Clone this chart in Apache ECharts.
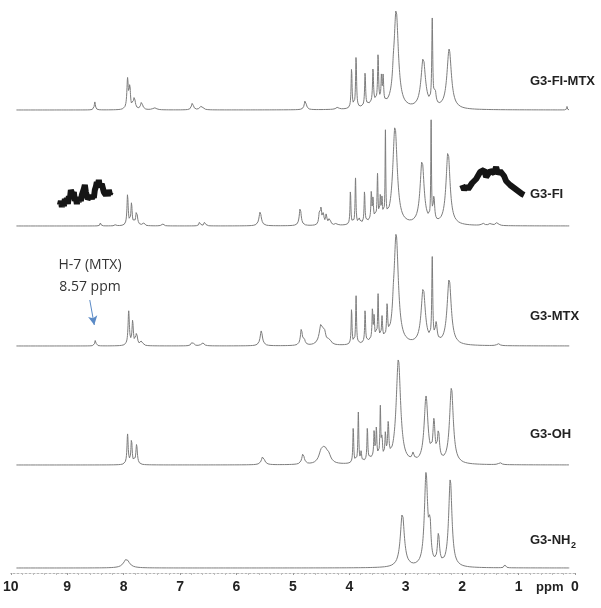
<!DOCTYPE html>
<html><head><meta charset="utf-8">
<script src="https://cdn.jsdelivr.net/npm/echarts@6/dist/echarts.min.js"></script>
<style>html,body{margin:0;padding:0;background:#fff}#c{width:601px;height:608px}</style>
</head><body><div id="c"></div>
<script>
// ---------------- DATA ----------------
const spectrumNames = ['G3-FI-MTX', 'G3-FI', 'G3-MTX', 'G3-OH', 'G3-NH2'];
const xTickValues = [10, 9, 8, 7, 6, 5, 4, 3, 2, 1, 0];
// peaks: [chemical shift (ppm), intensity, half width at half max (ppm)]
const peaksFIMTX = [
  [8.51, 8, 0.012], [7.93, 30, 0.015], [7.89, 22, 0.013], [7.81, 12, 0.02], [7.68, 8, 0.02], [7.45, 2, 0.04],
  [6.78, 7, 0.02], [6.62, 4, 0.03], [4.78, 10, 0.02], [4.21, 2, 0.03],
  [3.96, 40, 0.01], [3.88, 52, 0.01], [3.72, 34, 0.01], [3.58, 34, 0.01], [3.49, 48, 0.01],
  [3.43, 26, 0.01], [3.40, 26, 0.01], [3.55, 6, 0.15], [3.22, 8, 0.015],
  [3.17, 98, 0.047], [2.69, 50, 0.047], [2.53, 84, 0.01], [2.48, 14, 0.02], [2.23, 60, 0.047], [0.14, 4, 0.005]
];
const peaksFI = [
  [8.41, 3, 0.01], [8.14, 2, 0.01], [7.93, 31, 0.013], [7.86, 22, 0.013], [7.77, 15, 0.018], [7.65, 3, 0.02], [7.31, 2, 0.02],
  [6.65, 5, 0.012], [6.56, 5, 0.012], [5.58, 14, 0.025], [4.87, 18, 0.02],
  [4.53, 12, 0.015], [4.50, 16, 0.012], [4.46, 11, 0.012], [4.41, 10, 0.015], [4.35, 7, 0.02], [4.23, 2, 0.02],
  [3.98, 34, 0.009], [3.89, 46, 0.009], [3.82, 5, 0.01], [3.73, 32, 0.009], [3.61, 28, 0.009], [3.58, 20, 0.009],
  [3.50, 44, 0.009], [3.45, 22, 0.009], [3.42, 20, 0.009], [3.36, 86, 0.007], [3.55, 5, 0.15],
  [3.19, 98, 0.047], [2.71, 64, 0.042], [2.55, 98, 0.007], [2.50, 24, 0.015], [2.25, 74, 0.042],
  [1.63, 2, 0.03], [1.50, 2, 0.03], [1.38, 3, 0.03]
];
const peaksMTX = [
  [8.50, 6, 0.012], [7.91, 34, 0.014], [7.84, 24, 0.014], [7.77, 12, 0.018], [7.68, 5, 0.02],
  [6.78, 5, 0.02], [6.60, 3, 0.03], [5.56, 15, 0.025], [4.85, 16, 0.02], [4.80, 5, 0.02],
  [4.50, 20, 0.04], [4.44, 10, 0.03], [4.35, 5, 0.03],
  [3.96, 36, 0.009], [3.88, 48, 0.009], [3.72, 33, 0.009], [3.59, 30, 0.009], [3.56, 22, 0.009], [3.49, 44, 0.009],
  [3.42, 22, 0.011], [3.33, 32, 0.011], [3.55, 5, 0.15], [3.22, 8, 0.015],
  [3.17, 110, 0.047], [2.69, 56, 0.044], [2.53, 82, 0.01], [2.46, 18, 0.02], [2.23, 66, 0.044], [1.36, 2, 0.03]
];
const peaksOH = [
  [7.93, 30, 0.013], [7.86, 25, 0.013], [7.77, 20, 0.016], [5.53, 9, 0.03], [4.82, 11, 0.025],
  [4.50, 10, 0.05], [4.44, 12, 0.05], [4.37, 8, 0.05],
  [3.93, 36, 0.009], [3.84, 50, 0.009], [3.79, 10, 0.009], [3.68, 33, 0.009], [3.56, 26, 0.009], [3.52, 29, 0.009],
  [3.45, 50, 0.009], [3.42, 20, 0.009], [3.36, 24, 0.011], [3.31, 34, 0.013], [3.55, 6, 0.15],
  [3.13, 104, 0.047], [2.87, 7, 0.02], [2.64, 66, 0.04], [2.50, 38, 0.022], [2.42, 28, 0.022], [2.19, 76, 0.04], [1.33, 2, 0.03]
];
const peaksNH2 = [
  [7.95, 9, 0.06], [3.06, 54, 0.042], [2.64, 92, 0.035], [2.57, 34, 0.02], [2.42, 30, 0.022], [2.21, 88, 0.035], [1.24, 3, 0.015]
];
// magnified baseline insets of G3-FI: start ppm, ppm step, sampled intensities
const insetLeftStart = 9.13, insetLeftStep = 0.0177;
const insetLeftValues = [368, 372, 366, 371, 367, 374, 370, 375, 369, 377, 374, 383, 385, 378, 381, 372, 375, 369, 374, 371,
  376, 372, 378, 376, 384, 388, 381, 379, 374, 376, 372, 377, 374, 378, 375, 383, 386, 391, 388, 393,
  386, 384, 389, 385, 381, 383, 378, 381, 377, 383, 379, 381, 378];
const insetRightStart = 2.00, insetRightStep = 0.0354;
const insetRightValues = [388, 383, 387, 384, 386, 390, 388, 394, 396, 401, 399, 403, 396, 398, 402, 404,
  400, 406, 399, 402, 404, 397, 392, 394, 388, 390, 385, 387, 382, 384, 379, 378];
const annotationShift = 8.57;

// ---------------- LAYOUT ----------------
const stackBase = [463, 347, 227, 108, 5];  // vertical offset of each trace
const labelY = [83, 196, 318, 436, 542];

function buildCurve(peaks, base) {
  const xs = [];
  for (let i = 0; i <= 4900; i++) xs.push(9.9 - i * 0.002);
  peaks.forEach(p => xs.push(p[0]));
  xs.sort((a, b) => b - a);
  return xs.map(x => {
    let y = base;
    for (const [c, h, w] of peaks) { const d = (x - c) / w; y += h / (1 + d * d); }
    return [x, y];
  });
}
function sampled(start, step, vals) { return vals.map((v, i) => [start - i * step, v]); }

const allPeaks = [peaksFIMTX, peaksFI, peaksMTX, peaksOH, peaksNH2];
const series = allPeaks.map((pk, i) => ({
  type: 'line', name: spectrumNames[i], data: buildCurve(pk, stackBase[i]),
  showSymbol: false, silent: true, animation: false,
  lineStyle: { color: '#7d7d7d', width: 1 }
}));
series[2].markLine = {
  silent: true, animation: false, symbol: ['none', 'arrow'], symbolSize: [7, 9],
  label: { show: false },
  lineStyle: { color: '#5a8ac6', width: 1, type: 'solid' },
  data: [[{ coord: [annotationShift + 0.03, 273] }, { coord: [annotationShift - 0.05, 248] }]]
};
[sampled(insetLeftStart, insetLeftStep, insetLeftValues), sampled(insetRightStart, insetRightStep, insetRightValues)]
  .forEach(d => series.push({
    type: 'line', data: d, showSymbol: false, silent: true, animation: false,
    lineStyle: { color: '#151515', width: 6, join: 'bevel', cap: 'butt' }
  }));

const labelGraphics = [];
spectrumNames.forEach((n, i) => {
  const txt = n === 'G3-NH2' ? 'G3-NH' : n;
  labelGraphics.push({ type: 'text', left: 530, top: labelY[i] - 8,
    style: { text: txt, font: 'bold 13px "Liberation Sans", Arial, sans-serif', fill: '#222' } });
});
labelGraphics.push({ type: 'text', left: 571, top: 541,
  style: { text: '2', font: 'bold 9px "Liberation Sans", Arial, sans-serif', fill: '#222' } });
labelGraphics.push({ type: 'text', left: 536, top: 581,
  style: { text: 'ppm', font: 'bold 13px "Liberation Sans", Arial, sans-serif', fill: '#222' } });
labelGraphics.push({ type: 'text', x: 90, y: 265,
  style: { text: 'H-7 (MTX)', font: '14px "Open Sans", sans-serif', fill: '#333', textAlign: 'center', textVerticalAlign: 'middle' } });
labelGraphics.push({ type: 'text', x: 90, y: 287,
  style: { text: annotationShift.toFixed(2) + ' ppm', font: '14px "Open Sans", sans-serif', fill: '#333', textAlign: 'center', textVerticalAlign: 'middle' } });

const chart = echarts.init(document.getElementById('c'), null, { renderer: 'canvas' });
chart.setOption({
  backgroundColor: '#fff',
  animation: false,
  grid: { left: 10, right: 26, top: 0, bottom: 35 },
  xAxis: {
    type: 'value', min: 0, max: 10, interval: 1, inverse: true,
    axisLine: { show: true, lineStyle: { color: '#b5b5b5', width: 1, type: [2, 2] } },
    axisTick: { show: true, length: 2, lineStyle: { color: '#9a9a9a' } },
    minorTick: { show: true, splitNumber: 5, length: 2, lineStyle: { color: '#bdbdbd' } },
    splitLine: { show: false },
    axisLabel: {
      margin: 7, fontSize: 14, fontWeight: 'bold', color: '#222', fontFamily: '"Liberation Sans", Arial, sans-serif',
      showMinLabel: true, showMaxLabel: true,
      formatter: v => xTickValues.includes(v) ? String(v) : ''
    }
  },
  yAxis: { type: 'value', min: 0, max: 573, show: false },
  series: series,
  graphic: labelGraphics
});
</script></body></html>
